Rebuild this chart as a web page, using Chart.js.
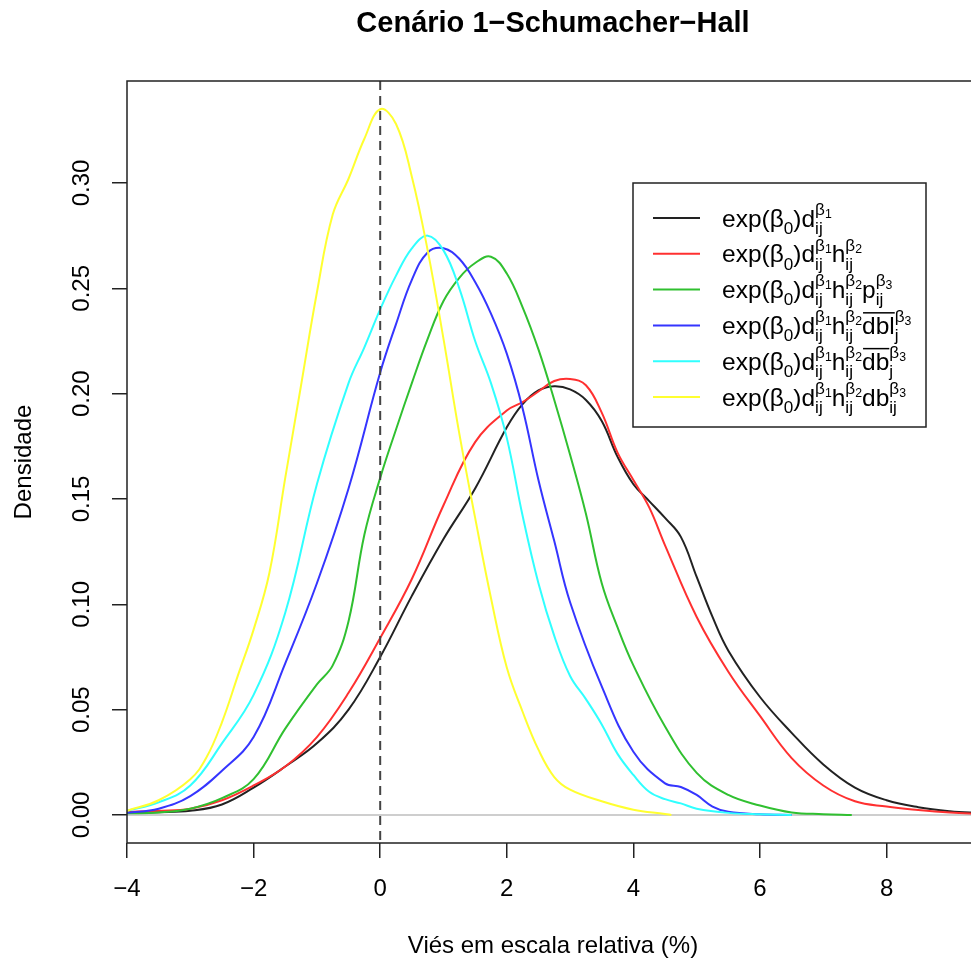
<!DOCTYPE html>
<html>
<head>
<meta charset="utf-8">
<script src="https://cdn.jsdelivr.net/npm/chart.js@4.4.1/dist/chart.umd.min.js"></script>
<style>
  html, body { margin: 0; padding: 0; background: #fff; overflow: hidden; }
  #wrap { width: 990px; height: 963px; }
</style>
</head>
<body>
<div id="wrap"><canvas id="myChart" width="990" height="963"></canvas></div>
<script>
// density curves (x = bias %, y = density)
var xBlack = [-4,-3.5,-3,-2.5,-2,-1.5,-1,-0.5,0,0.5,1,1.5,2,2.25,2.5,2.75,3,3.25,3.5,3.75,4,4.25,4.5,4.75,5,5.25,5.5,6,6.5,7,7.5,8,8.5,9,9.5];
var yBlack = [0.001,0.0013,0.002,0.005,0.013,0.023,0.034,0.050,0.075,0.104,0.131,0.155,0.184,0.195,0.2015,0.2035,0.202,0.197,0.187,0.170,0.157,0.149,0.141,0.132,0.113,0.094,0.078,0.056,0.039,0.024,0.013,0.007,0.0037,0.0018,0.0008];

var xRed = [-4,-3.5,-3,-2.5,-2,-1.5,-1,-0.5,0,0.5,1,1.5,2,2.25,2.5,2.75,3,3.25,3.5,3.75,4,4.25,4.5,5,5.5,6,6.5,7,7.5,8,8.5,9,9.5];
var yRed = [0.0015,0.002,0.003,0.007,0.014,0.023,0.037,0.058,0.084,0.112,0.147,0.177,0.192,0.196,0.201,0.206,0.207,0.204,0.191,0.172,0.159,0.146,0.128,0.094,0.068,0.047,0.027,0.014,0.0065,0.004,0.0024,0.0012,0.0005];

var xGreen = [-4,-3.5,-3,-2.5,-2,-1.5,-1,-0.75,-0.5,-0.25,0,0.25,0.5,0.75,1,1.25,1.5,1.75,2,2.25,2.5,2.75,3,3.25,3.5,3.75,4,4.5,5,5.5,6,6.5,7,7.45];
var yGreen = [0.0008,0.0012,0.003,0.008,0.017,0.041,0.062,0.071,0.092,0.133,0.160,0.183,0.205,0.226,0.244,0.255,0.262,0.265,0.257,0.241,0.221,0.197,0.171,0.143,0.110,0.089,0.071,0.042,0.020,0.0095,0.0045,0.0012,0.0004,0];

var xBlue = [-4,-3.5,-3,-2.5,-2,-1.5,-1,-0.5,0,0.25,0.5,0.75,1,1.25,1.5,1.75,2,2.25,2.5,2.75,3,3.5,4,4.5,4.75,5,5.25,5.5,6,6.5];
var yBlue = [0.001,0.003,0.009,0.021,0.037,0.072,0.110,0.155,0.210,0.233,0.254,0.267,0.269,0.264,0.253,0.238,0.219,0.193,0.159,0.130,0.101,0.061,0.030,0.015,0.0133,0.0095,0.004,0.0015,0.0003,0];

var xCyan = [-4,-3.5,-3,-2.5,-2,-1.5,-1,-0.5,-0.25,0,0.25,0.5,0.75,1,1.25,1.5,1.75,2,2.25,2.5,2.75,3,3.25,3.5,3.75,4,4.25,4.5,4.75,5,5.5,6,6.5];
var yCyan = [0.002,0.006,0.014,0.034,0.057,0.096,0.157,0.205,0.222,0.240,0.256,0.269,0.275,0.268,0.250,0.225,0.205,0.179,0.142,0.110,0.085,0.066,0.055,0.043,0.029,0.019,0.011,0.0075,0.0055,0.003,0.001,0.0003,0];

var xYellow = [-4,-3.5,-3,-2.75,-2.5,-2.25,-2,-1.75,-1.5,-1.25,-1,-0.75,-0.5,-0.25,0,0.25,0.5,0.75,1,1.25,1.5,1.75,2,2.25,2.5,2.75,3,3.5,4,4.5,4.6];
var yYellow = [0.002,0.007,0.017,0.027,0.044,0.066,0.088,0.115,0.160,0.204,0.248,0.285,0.302,0.321,0.335,0.328,0.303,0.268,0.226,0.181,0.141,0.103,0.070,0.049,0.031,0.018,0.012,0.0065,0.0025,0.0005,0];

var seriesNames = ['exp(β0)dij^β1', 'exp(β0)dij^β1 hij^β2', 'exp(β0)dij^β1 hij^β2 pij^β3',
                   'exp(β0)dij^β1 hij^β2 dbl_j^β3', 'exp(β0)dij^β1 hij^β2 db_j^β3', 'exp(β0)dij^β1 hij^β2 dbij^β3'];
var seriesColors = ['#222222', '#ff3030', '#30c030', '#3535ff', '#30ffff', '#ffff30'];
var xTicks = [-4, -2, 0, 2, 4, 6, 8];
var yTicks = [0, 0.05, 0.10, 0.15, 0.20, 0.25, 0.30];
var titleText = 'Cenário 1\u2212Schumacher\u2212Hall';
var xLabel = 'Viés em escala relativa (%)';
var yLabel = 'Densidade';

// legend labels in math form (base, subscript, superscript, superscript's subscript, overline)
var head = [{b: 'exp(β', sub: '0'}, {b: ')d', sub: 'ij', sup: 'β', ss: '1'}];
var hPart = {b: 'h', sub: 'ij', sup: 'β', ss: '2'};
var mathLabels = [
  head,
  head.concat([hPart]),
  head.concat([hPart, {b: 'p', sub: 'ij', sup: 'β', ss: '3'}]),
  head.concat([hPart, {b: 'dbl', over: true, sub: 'j', sup: 'β', ss: '3'}]),
  head.concat([hPart, {b: 'db', over: true, sub: 'j', sup: 'β', ss: '3'}]),
  head.concat([hPart, {b: 'db', sub: 'ij', sup: 'β', ss: '3'}])
];

var FONT = "'Liberation Sans', Arial, sans-serif";

function pairs(xs, ys) {
  var out = [];
  for (var i = 0; i < xs.length; i++) out.push({x: xs[i], y: ys[i]});
  return out;
}

var allX = [xBlack, xRed, xGreen, xBlue, xCyan, xYellow];
var allY = [yBlack, yRed, yGreen, yBlue, yCyan, yYellow];
var datasets = [];
for (var i = 0; i < allX.length; i++) {
  datasets.push({
    label: seriesNames[i],
    data: pairs(allX[i], allY[i]),
    borderColor: seriesColors[i],
    borderWidth: 2,
    pointRadius: 0,
    fill: false,
    tension: 0.4,
    order: allX.length - 1 - i
  });
}

// gray line at density 0, dashed line at bias 0, box round the plot
var refLines = {
  id: 'refLines',
  beforeDatasetsDraw: function(chart) {
    var c = chart.ctx, a = chart.chartArea;
    var y0 = chart.scales.y.getPixelForValue(0);
    c.save();
    c.strokeStyle = '#bebebe';
    c.lineWidth = 1.5;
    c.beginPath(); c.moveTo(a.left, y0); c.lineTo(a.right, y0); c.stroke();
    c.restore();
  },
  afterDatasetsDraw: function(chart) {
    var c = chart.ctx, a = chart.chartArea;
    var x0 = chart.scales.x.getPixelForValue(0);
    c.save();
    c.strokeStyle = '#444';
    c.lineWidth = 2;
    c.setLineDash([9, 6]);
    c.beginPath(); c.moveTo(x0, a.top); c.lineTo(x0, a.bottom); c.stroke();
    c.setLineDash([]);
    c.strokeStyle = '#222';
    c.lineWidth = 1.5;
    c.strokeRect(a.left, a.top, a.right - a.left, a.bottom - a.top);
    c.restore();
  }
};

function drawPiece(c, x, base, p, size) {
  c.font = size + 'px ' + FONT;
  var w = c.measureText(p.b).width;
  c.fillText(p.b, x, base);
  if (p.over) {
    c.save();
    c.lineWidth = 1.5;
    c.beginPath(); c.moveTo(x + 1, base - size * 0.86); c.lineTo(x + w, base - size * 0.86); c.stroke();
    c.restore();
  }
  var sx = x + w, subW = 0, supW = 0;
  if (p.sub) {
    c.font = (size * 0.7) + 'px ' + FONT;
    subW = c.measureText(p.sub).width;
    c.fillText(p.sub, sx, base + size * 0.3);
  }
  if (p.sup) {
    c.font = (size * 0.7) + 'px ' + FONT;
    supW = c.measureText(p.sup).width;
    c.fillText(p.sup, sx, base - size * 0.48);
    if (p.ss) {
      c.font = (size * 0.5) + 'px ' + FONT;
      c.fillText(p.ss, sx + supW, base - size * 0.36);
      supW += c.measureText(p.ss).width;
    }
  }
  return sx + Math.max(subW, supW);
}

var mathLegend = {
  id: 'mathLegend',
  afterDraw: function(chart) {
    var c = chart.ctx, a = chart.chartArea;
    var left = a.left + 506, top = a.top + 102, w = 293, h = 244;
    c.save();
    c.fillStyle = '#fff';
    c.fillRect(left, top, w, h);
    c.strokeStyle = '#222';
    c.lineWidth = 1.5;
    c.strokeRect(left, top, w, h);
    for (var i = 0; i < mathLabels.length; i++) {
      var ly = top + 35 + i * 35.8;
      c.strokeStyle = seriesColors[i];
      c.lineWidth = 2;
      c.beginPath(); c.moveTo(left + 20, ly); c.lineTo(left + 67, ly); c.stroke();
      c.fillStyle = '#000';
      c.strokeStyle = '#000';
      c.textBaseline = 'alphabetic';
      c.textAlign = 'left';
      var x = left + 89;
      for (var k = 0; k < mathLabels[i].length; k++) {
        x = drawPiece(c, x, ly + 8.5, mathLabels[i][k], 24.5);
      }
    }
    c.restore();
  }
};

function fmtX(v) { return v < 0 ? '\u2212' + Math.abs(v) : String(v); }

var ctx = document.getElementById('myChart').getContext('2d');
var myChart = new Chart(ctx, {
  type: 'line',
  data: { datasets: datasets },
  options: {
    responsive: false,
    animation: false,
    layout: { padding: { left: 0, right: 11, top: 0, bottom: 0 } },
    plugins: {
      legend: { display: false },
      tooltip: { enabled: false },
      title: {
        display: true,
        text: titleText,
        fullSize: false,
        color: '#000',
        font: { family: FONT, size: 29, weight: 'bold' },
        padding: { top: 7, bottom: 39.2 }
      }
    },
    scales: {
      x: {
        type: 'linear',
        min: -4,
        max: 9.46,
        afterBuildTicks: function(s) { s.ticks = xTicks.map(function(v) { return {value: v}; }); },
        afterFit: function(s) { s.height = 120; },
        border: { display: false },
        grid: { drawOnChartArea: false, drawTicks: true, tickLength: 15, tickColor: '#222', lineWidth: 1.5 },
        ticks: { color: '#000', font: { family: FONT, size: 24 }, padding: 16.6, maxRotation: 0, autoSkip: false,
                 callback: function(v) { return fmtX(v); } },
        title: { display: true, text: xLabel, color: '#000', font: { family: FONT, size: 24 }, padding: { top: 0, bottom: 2.6 } }
      },
      y: {
        type: 'linear',
        min: -0.0133,
        max: 0.3484,
        afterBuildTicks: function(s) { s.ticks = yTicks.map(function(v) { return {value: v}; }); },
        afterFit: function(s) { s.width = 127; },
        border: { display: false },
        grid: { drawOnChartArea: false, drawTicks: true, tickLength: 15, tickColor: '#222', lineWidth: 1.5 },
        ticks: { color: '#000', font: { family: FONT, size: 24 }, padding: 6.6, minRotation: 90, maxRotation: 90,
                 crossAlign: 'center', autoSkip: false,
                 callback: function(v) { return v.toFixed(2); } },
        title: { display: true, text: yLabel, color: '#000', font: { family: FONT, size: 24 }, padding: { top: 9.6, bottom: 0 } }
      }
    }
  },
  plugins: [refLines, mathLegend]
});
</script>
</body>
</html>
